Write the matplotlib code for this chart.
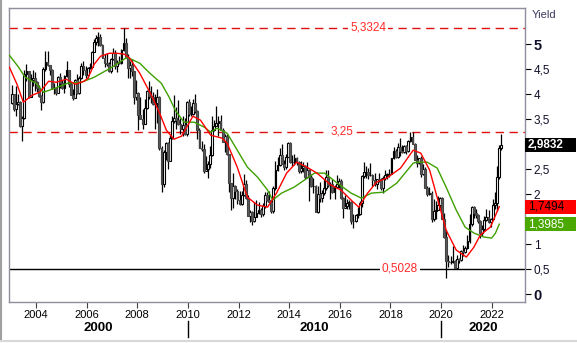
import numpy as np
import matplotlib.pyplot as plt
from matplotlib.patches import Rectangle
from matplotlib.lines import Line2D
from matplotlib.transforms import blended_transform_factory

plt.rcParams['font.family'] = ['Liberation Sans', 'DejaVu Sans']

# monthly candles, Jan 2003 .. May 2022 (open = previous close)
first_open = 3.82
close = [
    4.00, 3.70, 3.81, 3.84, 3.37, 3.52, 4.41, 4.46, 3.94, 4.29, 4.33, 4.25,
    4.13, 3.97, 3.84, 4.51, 4.65, 4.58, 4.48, 4.12, 4.12, 4.03, 4.35, 4.22,
    4.13, 4.36, 4.48, 4.20, 3.98, 3.92, 4.28, 4.02, 4.32, 4.56, 4.49, 4.39,
    4.52, 4.55, 4.85, 5.05, 5.12, 5.14, 4.98, 4.73, 4.63, 4.60, 4.46, 4.70,
    4.83, 4.56, 4.65, 4.63, 4.89, 5.03, 4.74, 4.53, 4.59, 4.47, 3.94, 4.03,
    3.59, 3.51, 3.41, 3.73, 4.06, 3.97, 3.95, 3.81, 3.83, 3.95, 2.92, 2.21,
    2.84, 3.02, 2.67, 3.12, 3.46, 3.53, 3.48, 3.40, 3.31, 3.39, 3.20, 3.84,
    3.60, 3.61, 3.83, 3.66, 3.29, 2.93, 2.91, 2.47, 2.51, 2.60, 2.79, 3.29,
    3.37, 3.42, 3.47, 3.29, 3.05, 3.16, 2.80, 2.22, 1.92, 2.17, 2.07, 1.88,
    1.80, 1.98, 2.21, 1.92, 1.56, 1.65, 1.47, 1.55, 1.63, 1.69, 1.61, 1.76,
    1.99, 1.88, 1.85, 1.67, 2.13, 2.49, 2.58, 2.78, 2.61, 2.55, 2.74, 3.03,
    2.64, 2.65, 2.72, 2.65, 2.47, 2.53, 2.56, 2.34, 2.49, 2.34, 2.16, 2.17,
    1.64, 2.00, 1.92, 2.03, 2.12, 2.35, 2.18, 2.21, 2.04, 2.14, 2.21, 2.27,
    1.92, 1.73, 1.77, 1.83, 1.85, 1.47, 1.46, 1.58, 1.60, 1.83, 2.37, 2.44,
    2.45, 2.39, 2.39, 2.28, 2.20, 2.30, 2.29, 2.12, 2.33, 2.38, 2.41, 2.41,
    2.72, 2.86, 2.74, 2.95, 2.86, 2.85, 2.96, 2.86, 3.06, 3.14, 3.01, 2.69,
    2.63, 2.72, 2.41, 2.51, 2.13, 2.00, 2.02, 1.50, 1.67, 1.69, 1.78, 1.92,
    1.51, 1.15, 0.67, 0.64, 0.65, 0.66, 0.53, 0.71, 0.68, 0.87, 0.84, 0.92,
    1.07, 1.40, 1.74, 1.63, 1.58, 1.47, 1.22, 1.31, 1.49, 1.55, 1.44, 1.51,
    1.78, 1.83, 2.34, 2.93, 2.9832,
]
high = [
    4.19, 4.01, 4.16, 4.00, 3.87, 3.57, 4.49, 4.60, 4.47, 4.40, 4.49, 4.45,
    4.27, 4.19, 3.99, 4.54, 4.87, 4.86, 4.58, 4.50, 4.23, 4.15, 4.36, 4.42,
    4.28, 4.38, 4.66, 4.49, 4.25, 4.10, 4.31, 4.40, 4.37, 4.62, 4.66, 4.56,
    4.55, 4.62, 4.86, 5.11, 5.19, 5.25, 5.20, 5.00, 4.81, 4.82, 4.64, 4.72,
    4.92, 4.88, 4.68, 4.76, 4.91, 5.33, 5.12, 4.80, 4.67, 4.70, 4.47, 4.28,
    4.05, 3.95, 3.71, 3.90, 4.09, 4.27, 4.17, 4.04, 4.00, 4.10, 3.97, 2.96,
    2.88, 3.04, 3.05, 3.19, 3.57, 3.99, 3.74, 3.89, 3.53, 3.56, 3.53, 3.86,
    3.90, 3.76, 3.90, 4.01, 3.69, 3.32, 3.07, 3.00, 2.76, 2.67, 2.96, 3.56,
    3.49, 3.77, 3.56, 3.59, 3.32, 3.20, 3.21, 2.81, 2.23, 2.42, 2.19, 2.10,
    2.06, 2.07, 2.40, 2.29, 1.99, 1.69, 1.67, 1.85, 1.88, 1.85, 1.73, 1.83,
    2.04, 2.05, 2.07, 1.87, 2.17, 2.66, 2.75, 2.93, 3.00, 2.69, 2.80, 3.05,
    3.04, 2.78, 2.81, 2.74, 2.66, 2.66, 2.65, 2.58, 2.65, 2.51, 2.41, 2.33,
    2.18, 2.16, 2.25, 2.09, 2.31, 2.49, 2.48, 2.24, 2.31, 2.19, 2.38, 2.33,
    2.30, 1.94, 1.98, 1.90, 1.88, 1.87, 1.60, 1.61, 1.74, 1.86, 2.38, 2.64,
    2.56, 2.52, 2.63, 2.40, 2.42, 2.30, 2.42, 2.32, 2.36, 2.48, 2.43, 2.50,
    2.73, 2.95, 2.90, 3.03, 3.12, 2.98, 2.99, 2.99, 3.09, 3.25, 3.24, 3.02,
    2.79, 2.73, 2.76, 2.60, 2.54, 2.16, 2.14, 2.06, 1.91, 1.86, 1.97, 1.95,
    1.94, 1.62, 1.28, 0.78, 0.76, 0.96, 0.69, 0.78, 0.73, 0.88, 0.98, 0.96,
    1.18, 1.61, 1.77, 1.77, 1.70, 1.60, 1.49, 1.38, 1.56, 1.70, 1.69, 1.52,
    1.91, 2.05, 2.56, 2.98, 3.20,
]
low = [
    3.80, 3.66, 3.56, 3.78, 3.34, 3.07, 3.51, 4.26, 3.92, 3.94, 4.16, 4.07,
    4.05, 3.95, 3.68, 3.82, 4.47, 4.56, 4.39, 4.11, 4.00, 3.99, 4.03, 4.13,
    4.10, 4.02, 4.34, 4.14, 3.98, 3.88, 3.92, 4.00, 4.00, 4.30, 4.38, 4.33,
    4.33, 4.50, 4.55, 4.84, 4.99, 4.97, 4.96, 4.72, 4.54, 4.56, 4.44, 4.43,
    4.68, 4.51, 4.44, 4.61, 4.60, 4.87, 4.73, 4.32, 4.33, 4.37, 3.80, 3.89,
    3.28, 3.50, 3.31, 3.40, 3.70, 3.90, 3.83, 3.78, 3.31, 3.43, 2.88, 2.04,
    2.14, 2.69, 2.51, 2.66, 3.10, 3.42, 3.30, 3.39, 3.21, 3.16, 3.19, 3.17,
    3.56, 3.57, 3.59, 3.63, 3.10, 2.93, 2.87, 2.42, 2.47, 2.33, 2.53, 2.77,
    3.27, 3.37, 3.16, 3.28, 3.04, 2.84, 2.79, 2.04, 1.69, 1.72, 1.90, 1.80,
    1.79, 1.79, 1.96, 1.90, 1.56, 1.44, 1.38, 1.45, 1.54, 1.60, 1.55, 1.57,
    1.72, 1.86, 1.84, 1.63, 1.62, 2.09, 2.46, 2.56, 2.60, 2.48, 2.51, 2.74,
    2.63, 2.57, 2.58, 2.58, 2.42, 2.42, 2.44, 2.31, 2.33, 1.86, 2.15, 2.02,
    1.64, 1.63, 1.85, 1.84, 1.99, 2.08, 2.15, 1.90, 2.03, 1.90, 2.13, 2.12,
    1.90, 1.53, 1.73, 1.71, 1.70, 1.40, 1.32, 1.45, 1.52, 1.59, 1.75, 2.33,
    2.33, 2.31, 2.37, 2.17, 2.17, 2.10, 2.25, 2.09, 2.03, 2.29, 2.30, 2.34,
    2.40, 2.70, 2.73, 2.73, 2.76, 2.82, 2.82, 2.81, 2.85, 3.04, 3.00, 2.68,
    2.55, 2.61, 2.35, 2.39, 2.12, 1.97, 1.98, 1.45, 1.46, 1.51, 1.68, 1.72,
    1.50, 1.13, 0.32, 0.55, 0.60, 0.63, 0.52, 0.50, 0.62, 0.66, 0.76, 0.82,
    0.91, 1.03, 1.37, 1.53, 1.53, 1.43, 1.13, 1.17, 1.26, 1.46, 1.42, 1.34,
    1.49, 1.71, 1.67, 2.31, 2.88,
]

# moving averages (red = short, green = long)
red_x = [2002.95, 2003.25, 2003.5, 2003.85, 2004.15, 2004.5, 2004.8, 2005.2,
         2005.55, 2005.9, 2006.05, 2006.3, 2006.55, 2006.9, 2007.2, 2007.5,
         2007.7, 2008.1, 2008.6, 2008.9, 2009.15, 2009.45, 2009.75, 2010.2,
         2010.5, 2010.9, 2011.35, 2011.55, 2011.95, 2012.35, 2012.75, 2013.15,
         2013.5, 2013.9, 2014.3, 2014.7, 2015.1, 2015.65, 2016.05, 2016.45,
         2016.75, 2017.1, 2017.45, 2017.85, 2018.4, 2018.9, 2019.2, 2019.55,
         2019.8, 2020.2, 2020.6, 2021.0, 2021.3, 2021.55, 2021.95, 2022.3]
red_y = [4.54, 4.20, 3.84, 3.98, 4.04, 4.26, 4.24, 4.30,
         4.20, 4.26, 4.32, 4.60, 4.76, 4.82, 4.82, 4.80,
         4.72, 4.42, 3.94, 3.60, 3.28, 3.10, 3.16, 3.56,
         3.48, 3.18, 3.12, 3.02, 2.54, 1.94, 1.78, 1.74,
         2.02, 2.42, 2.64, 2.54, 2.42, 2.18, 2.08, 1.88,
         1.74, 2.02, 2.24, 2.32, 2.52, 2.88, 2.82, 2.48,
         2.02, 1.28, 0.88, 0.74, 0.94, 1.18, 1.34, 1.7494]
green_x = [2002.95, 2003.3, 2003.57, 2004.0, 2004.3, 2004.75, 2005.25, 2005.8,
           2006.3, 2007.0, 2007.6, 2008.1, 2008.5, 2008.95, 2009.25, 2009.5,
           2009.85, 2010.25, 2010.65, 2010.9, 2011.15, 2011.55, 2011.95, 2012.35,
           2012.75, 2013.15, 2013.35, 2013.7, 2014.2, 2014.6, 2015.0, 2015.4,
           2015.9, 2016.45, 2016.85, 2017.25, 2017.75, 2018.25, 2018.9, 2019.05,
           2019.45, 2019.85, 2020.2, 2020.6, 2020.95, 2021.3, 2021.7, 2022.0,
           2022.15, 2022.3]
green_y = [4.78, 4.55, 4.34, 4.22, 4.04, 4.12, 4.22, 4.24,
           4.34, 4.54, 4.74, 4.62, 4.42, 4.22, 3.95, 3.68,
           3.44, 3.44, 3.34, 3.24, 3.32, 3.22, 2.88, 2.54,
           2.34, 2.08, 1.88, 2.02, 2.14, 2.28, 2.42, 2.42,
           2.22, 2.02, 1.92, 2.02, 2.04, 2.22, 2.62, 2.64,
           2.64, 2.52, 2.14, 1.68, 1.34, 1.22, 1.14, 1.12,
           1.22, 1.3985]

levels = [5.3324, 3.25, 0.5028]
level_labels = ["5,3324", "3,25", "0,5028"]
year_ticks = list(range(2004, 2023, 2))
decades = [2000, 2010, 2020]
y_ticks = [0, 0.5, 1, 1.5, 2, 2.5, 3, 3.5, 4, 4.5, 5]
# these two sit under the value boxes
hidden_ticks = (1.5, 3)


def fmt(v):
    return f"{v:g}".replace('.', ',')


xmin, xmax = 2002.946, 2023.335
ymin, ymax = -0.16, 5.72

fig = plt.figure(figsize=(5.77, 3.43), dpi=100)
ax = fig.add_axes([0.0161, 0.1195, 0.8946, 0.8563])

# candles
c = np.array(close)
o = np.concatenate(([first_open], c[:-1]))
h = np.array(high)
l = np.array(low)
x = 2003 + (np.arange(len(c)) + 0.5) / 12
up = c >= o
w = 0.072
ax.vlines(x, l, h, color='black', lw=0.9, zorder=2)
ax.bar(x[up], (c - o)[up], bottom=o[up], width=w, color='white',
       edgecolor='black', lw=0.8, zorder=3)
ax.bar(x[~up], (o - c)[~up], bottom=c[~up], width=w, color='#5c5c5c',
       edgecolor='#444444', lw=0.8, zorder=3)

ax.plot(green_x, green_y, color='#3ea000', lw=1.0, zorder=4)
ax.plot(red_x, red_y, color='#ff0000', lw=1.0, zorder=4)

# horizontal levels
label_pos = [0.695, 0.645, 0.757]
for v, txt, px in zip(levels, level_labels, label_pos):
    if txt == "0,5028":
        ax.axhline(v, color='black', lw=1.0, zorder=1)
    else:
        ax.axhline(v, color='#e01010', lw=1.0, ls=(0, (6, 4)), zorder=1)
    ax.text(px, v, txt, transform=blended_transform_factory(ax.transAxes, ax.transData),
            ha='center', va='center', fontsize=8.5, color='#ff2a2a', zorder=5,
            bbox=dict(boxstyle='square,pad=0.15', fc='white', ec='none'))

ax.set_xlim(xmin, xmax)
ax.set_ylim(ymin, ymax)

for s in ax.spines.values():
    s.set_color('#8e8e9e')
    s.set_linewidth(1.0)

ax.set_xticks(year_ticks)
ax.set_xticklabels([str(y) for y in year_ticks], fontsize=8)
ax.tick_params(axis='x', length=4, width=0.8, color='#404040', pad=1.5)

ax.yaxis.tick_right()
ax.set_yticks(y_ticks)
ax.set_yticklabels(['' if v in hidden_ticks else fmt(v) for v in y_ticks])
ax.tick_params(axis='y', length=4, width=0.8, color='black', pad=2)
for lab, v in zip(ax.get_yticklabels(), y_ticks):
    if v in (0, 5):
        lab.set_fontsize(10.5)
        lab.set_fontweight('bold')
    else:
        lab.set_fontsize(8.5)
    lab.set_color('#10102a')

# decade row below the year ticks
trans = blended_transform_factory(ax.transData, ax.transAxes)
for d in decades:
    a = max(d, xmin)
    b = min(d + 10, xmax)
    ax.text((a + b) / 2, -0.088, str(d), transform=trans, ha='center', va='center',
            fontsize=9.5, fontweight='bold', clip_on=False)
    if d > xmin:
        ax.add_line(Line2D([d, d], [-0.064, -0.119], transform=trans,
                           color='black', lw=1.0, clip_on=False))

# last value boxes on the right
tr = blended_transform_factory(ax.transAxes, ax.transData)
boxes = [
    (close[-1], '#000000', 'white', 'bold'),
    (red_y[-1], '#ff0000', 'black', 'normal'),
    (green_y[-1], '#4aa800', 'white', 'normal'),
]
for v, fc, tc, fw in boxes:
    ax.add_patch(Rectangle((1.0, v - 0.14), 0.097, 0.28, transform=tr,
                           fc=fc, ec='none', clip_on=False, zorder=6))
    ax.text(1.005, v, fmt(round(v, 4)), transform=tr, ha='left', va='center',
            fontsize=8.5, color=tc, fontweight=fw, zorder=7, clip_on=False)

fig.text(0.922, 0.956, "Yield", fontsize=8, color='#3a3a60', ha='left', va='center')

# window frame
fig.add_artist(Line2D([0.002, 0.002], [0.006, 1.0], transform=fig.transFigure,
                      color='#a0a0a0', lw=1.5))
fig.add_artist(Line2D([0.0, 1.0], [0.006, 0.006], transform=fig.transFigure,
                      color='#d8d8d8', lw=1.5))

fig.savefig('out.png', dpi=100)
